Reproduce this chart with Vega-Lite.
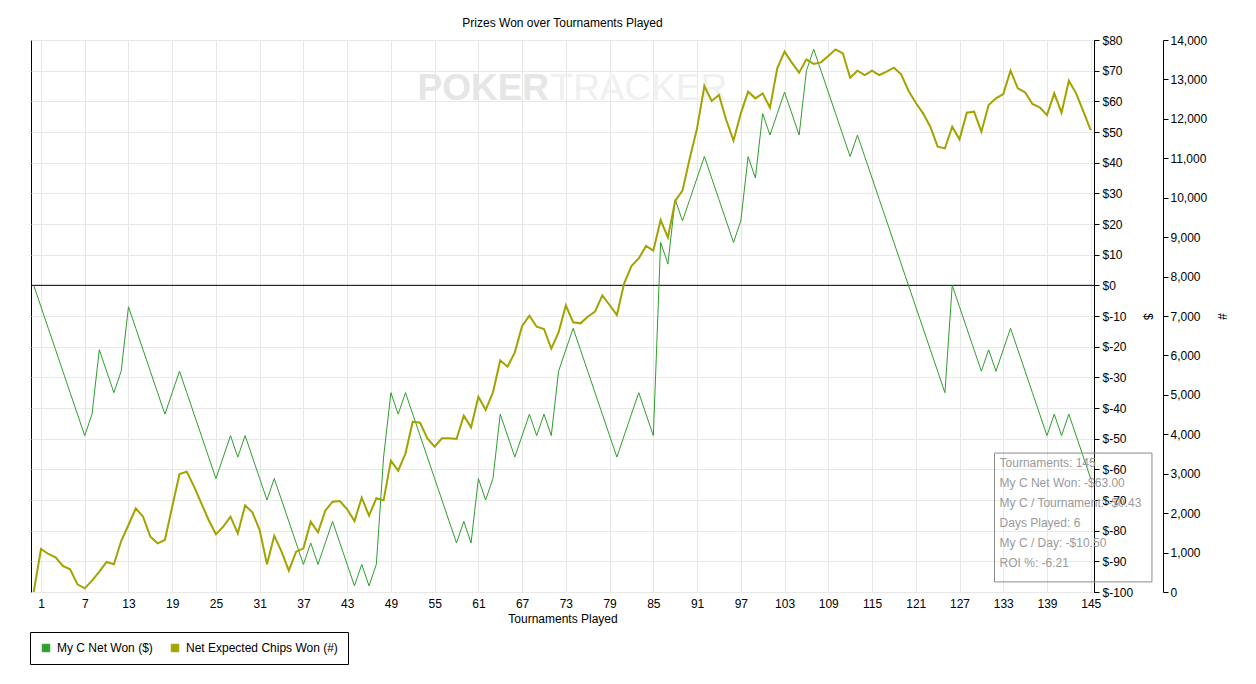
{
  "$schema": "https://vega.github.io/schema/vega-lite/v6.json",
  "width": 1063,
  "height": 552,
  "autosize": {"type": "none"},
  "padding": {"left": 31, "top": 40, "right": 162, "bottom": 92},
  "background": "white",
  "title": {"text": "Prizes Won over Tournaments Played", "font": "Liberation Sans", "fontSize": 12, "fontWeight": "normal", "color": "black", "offset": 4},
  "config": {
    "view": {"stroke": "black", "strokeWidth": 1},
    "axis": {"labelFont": "Liberation Sans", "labelFontSize": 12, "labelColor": "black", "titleFont": "Liberation Sans", "titleFontSize": 12, "titleFontWeight": "normal", "titleColor": "black", "gridColor": "#e8e8e8", "domainColor": "black", "tickColor": "black", "labelOverlap": false},
    "legend": {"labelFont": "Liberation Sans", "labelFontSize": 12, "labelColor": "black"}
  },
  "data": {"values": [
    {"t":0,"net":0,"chips":0},{"t":1,"net":-7,"chips":1090},{"t":2,"net":-14,"chips":964},{"t":3,"net":-21,"chips":879},{"t":4,"net":-28,"chips":659},{"t":5,"net":-35,"chips":575},{"t":6,"net":-42,"chips":194},{"t":7,"net":-49,"chips":93},{"t":8,"net":-42,"chips":287},{"t":9,"net":-21,"chips":516},
    {"t":10,"net":-28,"chips":761},{"t":11,"net":-35,"chips":702},{"t":12,"net":-28,"chips":1293},{"t":13,"net":-7,"chips":1699},{"t":14,"net":-14,"chips":2122},{"t":15,"net":-21,"chips":1911},{"t":16,"net":-28,"chips":1403},{"t":17,"net":-35,"chips":1234},{"t":18,"net":-42,"chips":1319},{"t":19,"net":-35,"chips":2164},
    {"t":20,"net":-28,"chips":2993},{"t":21,"net":-35,"chips":3052},{"t":22,"net":-42,"chips":2671},{"t":23,"net":-49,"chips":2249},{"t":24,"net":-56,"chips":1826},{"t":25,"net":-63,"chips":1463},{"t":26,"net":-56,"chips":1657},{"t":27,"net":-49,"chips":1911},{"t":28,"net":-56,"chips":1488},{"t":29,"net":-49,"chips":2198},
    {"t":30,"net":-56,"chips":2020},{"t":31,"net":-63,"chips":1572},{"t":32,"net":-70,"chips":702},{"t":33,"net":-63,"chips":1429},{"t":34,"net":-70,"chips":1023},{"t":35,"net":-77,"chips":541},{"t":36,"net":-84,"chips":1023},{"t":37,"net":-91,"chips":1107},{"t":38,"net":-84,"chips":1784},{"t":39,"net":-91,"chips":1513},
    {"t":40,"net":-84,"chips":2063},{"t":41,"net":-77,"chips":2291},{"t":42,"net":-84,"chips":2308},{"t":43,"net":-91,"chips":2097},{"t":44,"net":-98,"chips":1800},{"t":45,"net":-91,"chips":2392},{"t":46,"net":-98,"chips":1936},{"t":47,"net":-91,"chips":2376},{"t":48,"net":-56,"chips":2325},{"t":49,"net":-35,"chips":3331},
    {"t":50,"net":-42,"chips":3077},{"t":51,"net":-35,"chips":3517},{"t":52,"net":-42,"chips":4320},{"t":53,"net":-49,"chips":4295},{"t":54,"net":-56,"chips":3897},{"t":55,"net":-63,"chips":3686},{"t":56,"net":-70,"chips":3897},{"t":57,"net":-77,"chips":3897},{"t":58,"net":-84,"chips":3880},{"t":59,"net":-77,"chips":4472},
    {"t":60,"net":-84,"chips":4176},{"t":61,"net":-63,"chips":4954},{"t":62,"net":-70,"chips":4616},{"t":63,"net":-63,"chips":5064},{"t":64,"net":-42,"chips":5876},{"t":65,"net":-49,"chips":5715},{"t":66,"net":-56,"chips":6078},{"t":67,"net":-49,"chips":6746},{"t":68,"net":-42,"chips":7008},{"t":69,"net":-49,"chips":6729},
    {"t":70,"net":-42,"chips":6670},{"t":71,"net":-49,"chips":6171},{"t":72,"net":-28,"chips":6586},{"t":73,"net":-21,"chips":7270},{"t":74,"net":-14,"chips":6839},{"t":75,"net":-21,"chips":6814},{"t":76,"net":-28,"chips":6983},{"t":77,"net":-35,"chips":7110},{"t":78,"net":-42,"chips":7524},{"t":79,"net":-49,"chips":7279},
    {"t":80,"net":-56,"chips":7025},{"t":81,"net":-49,"chips":7828},{"t":82,"net":-42,"chips":8268},{"t":83,"net":-35,"chips":8462},{"t":84,"net":-42,"chips":8775},{"t":85,"net":-49,"chips":8657},{"t":86,"net":14,"chips":9435},{"t":87,"net":7,"chips":8995},{"t":88,"net":28,"chips":9916},{"t":89,"net":21,"chips":10179},
    {"t":90,"net":28,"chips":10999},{"t":91,"net":35,"chips":11759},{"t":92,"net":42,"chips":12833},{"t":93,"net":35,"chips":12453},{"t":94,"net":28,"chips":12605},{"t":95,"net":21,"chips":11971},{"t":96,"net":14,"chips":11447},{"t":97,"net":21,"chips":12140},{"t":98,"net":42,"chips":12690},{"t":99,"net":35,"chips":12520},
    {"t":100,"net":56,"chips":12647},{"t":101,"net":49,"chips":12284},{"t":102,"net":56,"chips":13281},{"t":103,"net":63,"chips":13704},{"t":104,"net":56,"chips":13425},{"t":105,"net":49,"chips":13171},{"t":106,"net":70,"chips":13509},{"t":107,"net":77,"chips":13391},{"t":108,"net":70,"chips":13433},{"t":109,"net":63,"chips":13594},
    {"t":110,"net":56,"chips":13763},{"t":111,"net":49,"chips":13662},{"t":112,"net":42,"chips":13044},{"t":113,"net":49,"chips":13222},{"t":114,"net":42,"chips":13112},{"t":115,"net":35,"chips":13222},{"t":116,"net":28,"chips":13112},{"t":117,"net":21,"chips":13197},{"t":118,"net":14,"chips":13298},{"t":119,"net":7,"chips":13129},
    {"t":120,"net":0,"chips":12715},{"t":121,"net":-7,"chips":12410},{"t":122,"net":-14,"chips":12140},{"t":123,"net":-21,"chips":11802},{"t":124,"net":-28,"chips":11295},{"t":125,"net":-35,"chips":11252},{"t":126,"net":0,"chips":11802},{"t":127,"net":-7,"chips":11480},{"t":128,"net":-14,"chips":12157},{"t":129,"net":-21,"chips":12182},
    {"t":130,"net":-28,"chips":11675},{"t":131,"net":-21,"chips":12351},{"t":132,"net":-28,"chips":12520},{"t":133,"net":-21,"chips":12630},{"t":134,"net":-14,"chips":13222},{"t":135,"net":-21,"chips":12774},{"t":136,"net":-28,"chips":12673},{"t":137,"net":-35,"chips":12377},{"t":138,"net":-42,"chips":12292},{"t":139,"net":-49,"chips":12098},
    {"t":140,"net":-42,"chips":12647},{"t":141,"net":-49,"chips":12157},{"t":142,"net":-42,"chips":12968},{"t":143,"net":-49,"chips":12647},{"t":144,"net":-56,"chips":12182},{"t":145,"net":-63,"chips":11717}
  ]},
  "layer": [
    {
      "layer": [
        {
          "data": {"values": [{}]},
          "mark": {"type": "text", "text": "POKER", "align": "right", "baseline": "middle", "font": "Liberation Sans", "fontSize": 37, "fontWeight": "bold", "color": "#e6e6e6"},
          "encoding": {
            "x": {"datum": 70.7, "type": "quantitative", "scale": {"domain": [-0.37, 145.45], "nice": false, "zero": false},
                  "axis": {"values": [1,7,13,19,25,31,37,43,49,55,61,67,73,79,85,91,97,103,109,115,121,127,133,139,145], "grid": true, "ticks": false, "domain": false, "labelPadding": 6, "title": "Tournaments Played", "titlePadding": 4}},
            "y": {"datum": 64, "type": "quantitative", "scale": {"domain": [-100, 80], "nice": false, "zero": false},
                  "axis": {"orient": "right", "tickCount": 18, "labelExpr": "'$' + datum.value", "grid": true, "tickSize": 5, "labelPadding": 3, "domain": true, "labelOverlap": false, "labelBound": false, "title": "$", "titlePadding": 8}}
          }
        },
        {
          "data": {"values": [{}]},
          "mark": {"type": "text", "text": "TRACKER", "align": "left", "baseline": "middle", "font": "Liberation Sans", "fontSize": 37, "color": "#f0f0f0"},
          "encoding": {"x": {"datum": 70.9, "type": "quantitative"}, "y": {"datum": 64, "type": "quantitative"}}
        },
        {
          "data": {"values": [{}]},
          "mark": {"type": "rule", "color": "black", "strokeWidth": 1},
          "encoding": {"y": {"datum": 0, "type": "quantitative"}}
        },
        {
          "mark": {"type": "line", "strokeWidth": 1, "interpolate": "linear"},
          "encoding": {
            "x": {"field": "t", "type": "quantitative"},
            "y": {"field": "net", "type": "quantitative"},
            "color": {"datum": "My C Net Won ($)", "type": "nominal",
                      "scale": {"domain": ["My C Net Won ($)", "Net Expected Chips Won (#)"], "range": ["#2e9e2e", "#a3a300"]},
                      "legend": {"title": null, "orient": "none", "legendX": -1, "legendY": 592, "direction": "horizontal", "strokeColor": "black", "padding": 10, "symbolType": "square", "symbolSize": 56, "symbolStrokeWidth": 1, "labelOffset": 5, "columnPadding": 16,
                                 "encode": {"symbols": {"update": {"fill": {"scale": "color", "field": "value"}, "stroke": {"value": "black"}, "strokeWidth": {"value": 1}, "opacity": {"value": 1}}}}}}
          }
        },
        {
          "data": {"values": [{}]},
          "mark": {"type": "rect", "fill": "white", "fillOpacity": 0, "stroke": "#8a8a8a", "strokeWidth": 1},
          "encoding": {"x": {"datum": 131.8, "type": "quantitative"}, "x2": {"datum": 153.4}, "y": {"datum": -54.7, "type": "quantitative"}, "y2": {"datum": -96.7}}
        },
        {
          "data": {"values": [{}]},
          "mark": {"type": "text", "align": "left", "baseline": "top", "lineBreak": "\n", "lineHeight": 20, "font": "Liberation Sans", "fontSize": 12, "color": "#9a9a9a",
                   "text": "Tournaments: 145\nMy C Net Won: -$63.00\nMy C / Tournament: -$0.43\nDays Played: 6\nMy C / Day: -$10.50\nROI %: -6.21"},
          "encoding": {"x": {"datum": 132.5, "type": "quantitative"}, "y": {"datum": -56.4, "type": "quantitative"}}
        }
      ]
    },
    {
      "layer": [
        {
          "mark": {"type": "line", "strokeWidth": 2, "interpolate": "linear"},
          "encoding": {
            "x": {"field": "t", "type": "quantitative"},
            "y": {"field": "chips", "type": "quantitative", "scale": {"domain": [0, 14000], "nice": false, "zero": false},
                  "axis": {"orient": "right", "offset": 69, "values": [0,1000,2000,3000,4000,5000,6000,7000,8000,9000,10000,11000,12000,13000,14000], "format": ",d", "grid": false, "tickSize": 5, "labelPadding": 2, "domain": true, "labelOverlap": false, "title": "#", "titlePadding": 8}},
            "color": {"datum": "Net Expected Chips Won (#)", "type": "nominal"}
          }
        }
      ]
    }
  ],
  "resolve": {"scale": {"y": "independent"}}
}
